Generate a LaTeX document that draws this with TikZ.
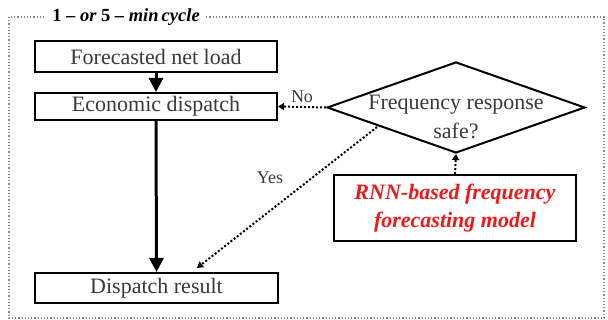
\documentclass[tikz,border=0pt]{standalone}
\usepackage{fontspec}
\setmainfont{Liberation Serif}
\usetikzlibrary{shapes.geometric,arrows.meta}
\definecolor{txt}{HTML}{3A3A3A}
\definecolor{framegray}{HTML}{8A8A8A}
\definecolor{rnnred}{HTML}{F01818}
\tikzset{
  procbox/.style={draw=black, line width=2pt, fill=white, inner sep=0pt,
    text=txt, font=\fontsize{22}{28}\selectfont, align=center},
  flow/.style={line width=3pt, -{Triangle[width=14pt,length=14pt]}},
  dotflow/.style={line width=2pt, dotted, -{Triangle[width=7pt,length=6pt]}},
  lbl/.style={text=txt, font=\fontsize{18}{20}\selectfont, inner sep=1pt}
}
\begin{document}
\begin{tikzpicture}[x=1pt,y=-1pt]
\useasboundingbox (0,0) rectangle (608,320);
% dotted frame of one dispatch cycle
\draw[framegray, line width=1.2pt, dotted] (9,17) rectangle (604,318);
\node[fill=white, inner xsep=6pt, inner ysep=2pt, text=black,
  font=\fontsize{18.5}{20}\selectfont\bfseries] (title) at (126,17)
  {1 \textendash\ \itshape or \upshape 5 \textendash\ \itshape min\,cycle};

% process boxes
\node[procbox, minimum width=242pt, minimum height=31pt] (load) at (156,56.5) {Forecasted net load};
\node[procbox, minimum width=242pt, minimum height=27pt] (ed) at (156,106.5) {Economic dispatch};
\node[procbox, minimum width=243pt, minimum height=30pt] (res) at (156.5,288) {Dispatch result};
\node[procbox, minimum width=242pt, minimum height=66pt, text=rnnred,
  font=\fontsize{22}{28}\selectfont\bfseries\itshape] (rnn) at (455,208)
  {RNN-based frequency\\forecasting model};

% decision
\node[draw=black, line width=2pt, diamond, aspect=2.835, minimum width=258pt,
  minimum height=91pt, inner sep=0pt] (safe) at (456,107.5) {};
\node[text=txt, font=\fontsize{22}{29}\selectfont, align=center, inner sep=0pt]
  (safetxt) at (456,117) {Frequency response\\safe?};

% connectors
\draw[flow] (load.south) -- (ed.north);
\draw[flow] (ed.south) -- (res.north);
\draw[dotflow] (safe.west) -- node[lbl, above, yshift=2pt] {No} (ed.east);
\coordinate (yesstart) at (377,127);
\coordinate (yesend) at (197,268);
\draw[dotflow] (yesstart) -- (yesend);
\node[lbl] (yes) at (270,178) {Yes};
\draw[dotflow] (rnn.north) -- (safe.south);
\end{tikzpicture}
\end{document}
